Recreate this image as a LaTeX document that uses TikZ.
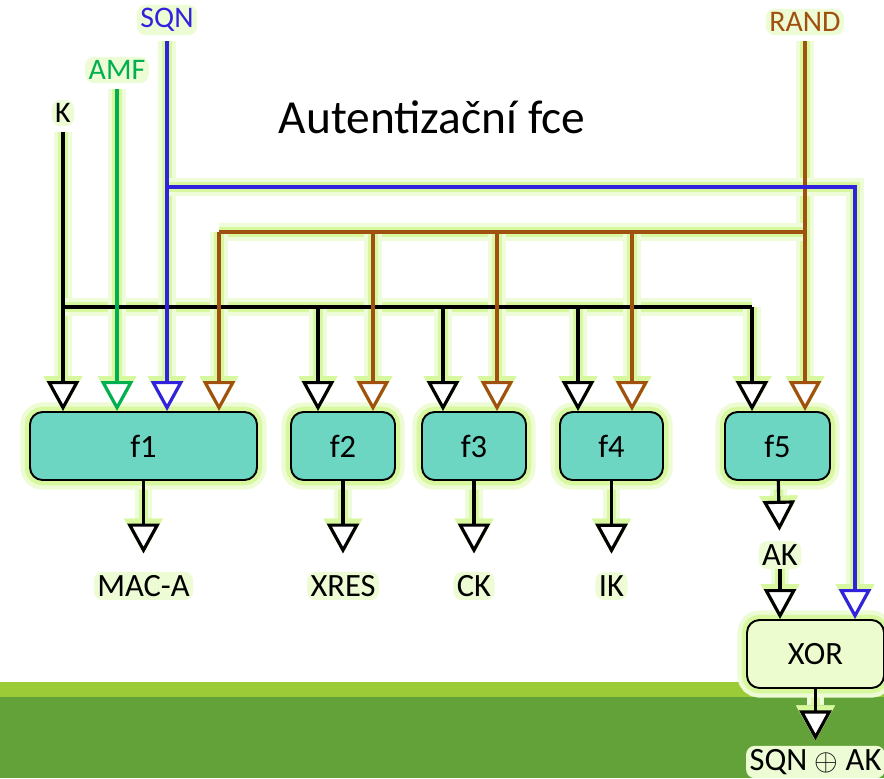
\documentclass[tikz,border=0pt]{standalone}
\usepackage{fontspec}
\setmainfont{Carlito}
\usetikzlibrary{arrows.meta}
\definecolor{boxfill}{HTML}{6DD6C3}
\definecolor{xorfill}{HTML}{EDFCCF}
\definecolor{glowc}{HTML}{D8F8A0}
\definecolor{sqnblue}{HTML}{3322DD}
\definecolor{amfgreen}{HTML}{00B050}
\definecolor{randbrown}{HTML}{A0500F}
\definecolor{bandlight}{HTML}{9BCB37}
\definecolor{banddark}{HTML}{63A238}
\pgfdeclarelayer{back}
\pgfdeclarelayer{halo}
\pgfsetlayers{back,halo,main}
\tikzset{wire/.style={line width=1.8pt},
         arr/.style={wire, -{Triangle[length=0.6cm, width=0.64cm, line width=1.8pt, fill=white]}},
         fbox/.style={draw, line width=1.1pt, rounded corners=0.25cm, minimum height=1.36cm,
                      fill=boxfill, font=\fontsize{18.5}{20}\selectfont,
                      preaction={draw=glowc!45, line width=11pt},
                      preaction={draw=glowc, line width=6pt}},
         lbl/.style={font=\fontsize{17}{19}\selectfont, fill=glowc!45, rounded corners=5pt, inner sep=2pt},
         outlbl/.style={lbl, font=\fontsize{18.5}{20}\selectfont}}

% all connectors; run twice: once for the halo, once for the lines
\newcommand{\wiring}{%
  % K and the black bus
  \draw[arr, shorten <=3pt] (K) -- (K |- f1.north);
  \draw[wire] (kj) -- (k5);
  \foreach \c/\f in {k2/f2, k3/f3, k4/f4, k5/f5}
    \draw[arr] (\c) -- (\c |- \f.north);
  % AMF
  \draw[amfgreen, arr, shorten <=3pt] (AMF) -- (AMF |- f1.north);
  % RAND and its bus
  \draw[randbrown, arr, shorten <=3pt] (RAND) -- (RAND |- f5.north);
  \draw[randbrown, wire] (rj) -- (r1);
  \foreach \c/\f in {r1/f1, r2/f2, r3/f3, r4/f4}
    \draw[randbrown, arr] (\c) -- (\c |- \f.north);
  % SQN, straight down and over to the XOR
  \draw[sqnblue, arr, shorten <=3pt] (SQN) -- (SQN |- f1.north);
  \draw[sqnblue, arr] (sj) -- (sc) -- (sc |- xor.north);
  % outputs
  \draw[arr, shorten >=0.36cm] (f1) -- (mac);
  \draw[arr, shorten >=0.36cm] (f2) -- (xres);
  \draw[arr, shorten >=0.36cm] (f3) -- (ck);
  \draw[arr, shorten >=0.36cm] (f4) -- (ik);
  \draw[arr, shorten >=0.2cm] (f5) -- (AK);
  \draw[arr] (AK) -- (AK |- xor.north);
  \draw[arr, shorten >=0.1cm] (xor) -- (sqnak);
}

\begin{document}
\begin{tikzpicture}[x=0.02cm, y=-0.02cm]
  \useasboundingbox (0,0) rectangle (884,778);

  % ground band
  \begin{pgfonlayer}{back}
    \fill[bandlight] (0,682) rectangle (884,697);
    \fill[banddark] (0,697) rectangle (884,778);
  \end{pgfonlayer}

  \node[font=\fontsize{27}{32}\selectfont] (title) at (432,117) {Autentizační fce};

  % inputs
  \node[lbl] (K) at (63,113) {K};
  \node[lbl, text=amfgreen] (AMF) at (117,70) {AMF};
  \node[lbl, text=sqnblue] (SQN) at (167,20) {SQN};
  \node[lbl, text=randbrown] (RAND) at (805,22) {RAND};

  % function boxes
  \node[fbox, minimum width=4.54cm] (f1) at (143.5,446) {f1};
  \node[fbox, minimum width=2.08cm] (f2) at (343,446) {f2};
  \node[fbox, minimum width=2.08cm] (f3) at (474,446) {f3};
  \node[fbox, minimum width=2.06cm] (f4) at (611.5,446) {f4};
  \node[fbox, minimum width=2.10cm] (f5) at (777.5,446) {f5};
  \node[fbox, fill=xorfill, minimum width=2.74cm] (xor) at (815.5,654) {XOR};

  % outputs
  \node[outlbl] (mac) at (f1 |- 0,586) {MAC-A};
  \node[outlbl] (xres) at (f2 |- 0,586) {XRES};
  \node[outlbl] (ck) at (f3 |- 0,586) {CK};
  \node[outlbl] (ik) at (f4 |- 0,586) {IK};
  \node[outlbl] (AK) at (780,555) {AK};
  \node[outlbl] (sqnak) at (xor |- 0,762) {SQN $\oplus$ AK};

  % bus corners and drops
  \coordinate (kj) at (K |- 0,307);
  \coordinate (k2) at (318,307);
  \coordinate (k3) at (443,307);
  \coordinate (k4) at (578,307);
  \coordinate (k5) at (752,307);
  \coordinate (rj) at (RAND |- 0,232);
  \coordinate (r1) at (219,232);
  \coordinate (r2) at (373,232);
  \coordinate (r3) at (497,232);
  \coordinate (r4) at (632,232);
  \coordinate (sj) at (SQN |- 0,187);
  \coordinate (sc) at (855,187);

  \begin{pgfonlayer}{halo}
    \tikzset{wire/.style={draw=glowc, line width=5.5pt, preaction={draw=glowc!40, line width=10pt}},
             arr/.style={wire, -{Triangle[length=0.7cm, width=0.78cm, line width=0pt, fill=glowc]}}}
    \wiring
  \end{pgfonlayer}
  \wiring
\end{tikzpicture}
\end{document}
